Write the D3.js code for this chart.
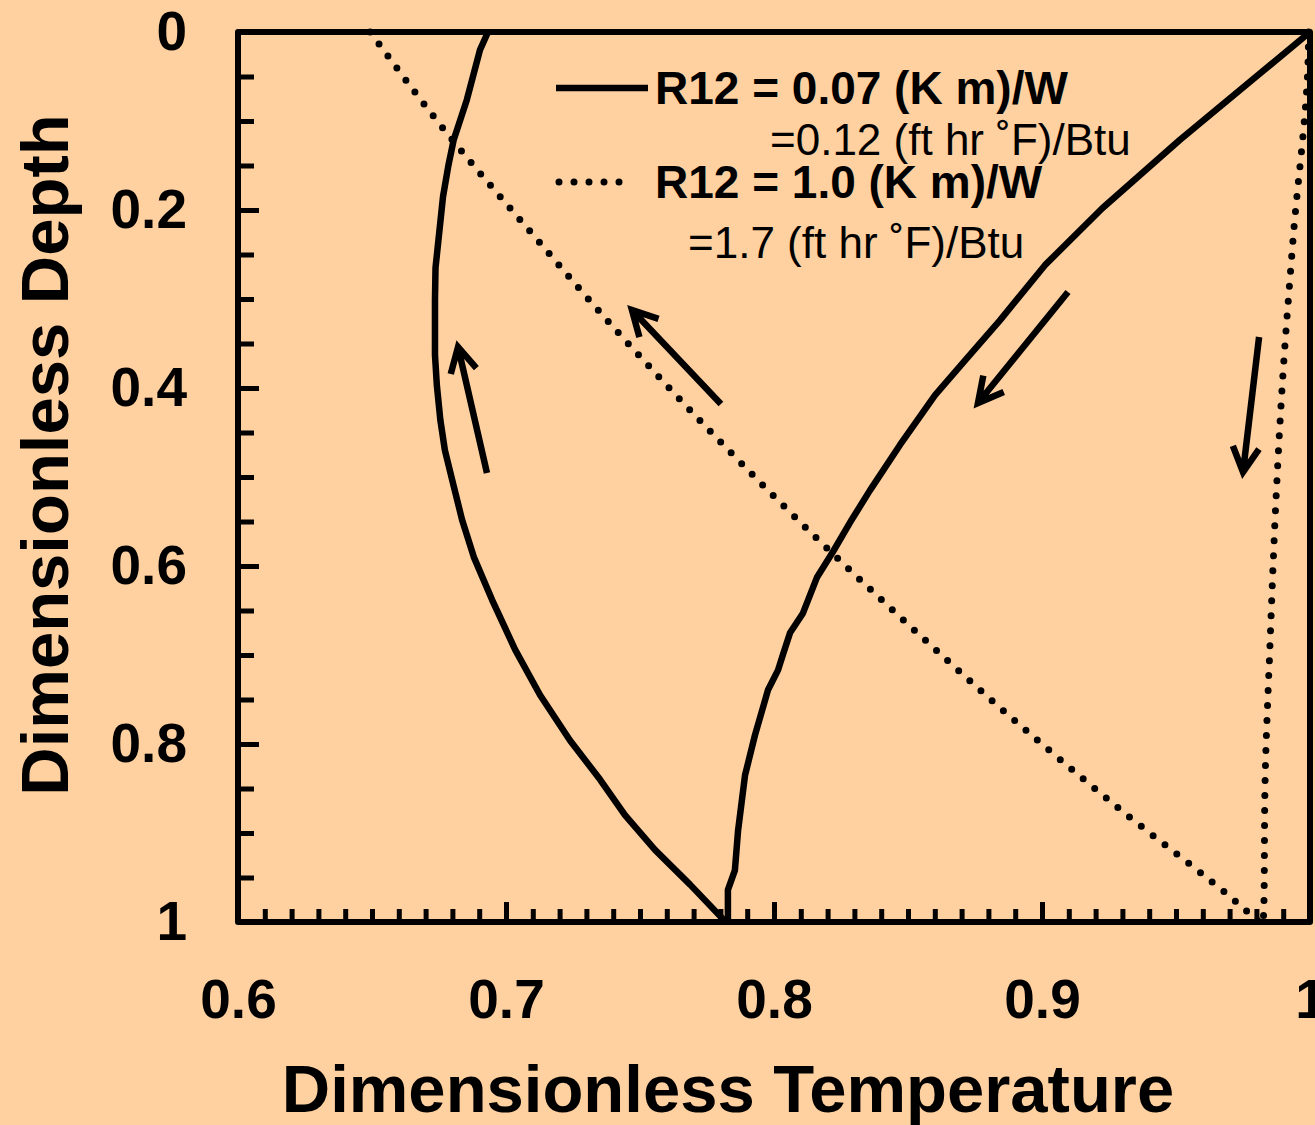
<!DOCTYPE html>
<html lang="en">
<head>
    <meta charset="UTF-8">
    <title>Dimensionless Temperature vs Depth</title>
    <script src="https://cdnjs.cloudflare.com/ajax/libs/d3/7.8.5/d3.min.js"></script>
    <style>
        body {
            margin: 0;
            background: #FFD0A0;
        }
        svg text {
            font-family: "Liberation Sans", Arial, sans-serif;
            fill: #000;
        }
        .tick-label {
            font-size: 55px;
            font-weight: bold;
        }
        .axis-title {
            font-size: 67px;
            font-weight: bold;
        }
        .legend-main {
            font-size: 46px;
            font-weight: bold;
        }
        .legend-sub {
            font-size: 44px;
        }
        .curve {
            fill: none;
            stroke: #000;
            stroke-width: 6.5;
            stroke-linejoin: round;
        }
        .dotted {
            stroke-width: 7;
            stroke-linecap: round;
            stroke-dasharray: 0 15;
        }
        .arrow {
            fill: none;
            stroke: #000;
            stroke-width: 6.5;
        }
    </style>
</head>
<body>
    <div id="chart"></div>

    <script>
        // Tick labels
        const xTicks = [0.6, 0.7, 0.8, 0.9, 1];
        const yTicks = [0, 0.2, 0.4, 0.6, 0.8, 1];

        // R12 = 0.07 (K m)/W, downward leg (from T = 1 at the top)
        const lowDownDepth = [0, 0.056, 0.121, 0.198, 0.262, 0.324, 0.369, 0.408, 0.464, 0.515, 0.548, 0.584, 0.613, 0.653, 0.675, 0.698, 0.717, 0.739, 0.790, 0.835, 0.897, 0.942, 0.964, 1];
        const lowDownTemp = [1.0, 0.9776, 0.9515, 0.9225, 0.9011, 0.8843, 0.8713, 0.8601, 0.8470, 0.8358, 0.829, 0.822, 0.816, 0.8108, 0.806, 0.8035, 0.8015, 0.7978, 0.7929, 0.7892, 0.7866, 0.7854, 0.7828, 0.7828];

        // R12 = 0.07 (K m)/W, upward leg
        const lowUpDepth = [0, 0.020, 0.076, 0.121, 0.150, 0.185, 0.222, 0.265, 0.301, 0.363, 0.397, 0.436, 0.470, 0.503, 0.548, 0.590, 0.638, 0.694, 0.745, 0.796, 0.840, 0.880, 0.919, 0.958, 1];
        const lowUpTemp = [0.6933, 0.6903, 0.6854, 0.6805, 0.6785, 0.6765, 0.6752, 0.6737, 0.6735, 0.6735, 0.6742, 0.6755, 0.6772, 0.6799, 0.6836, 0.6880, 0.6948, 0.7034, 0.7127, 0.7239, 0.7351, 0.7444, 0.7556, 0.7687, 0.7820];

        // R12 = 1.0 (K m)/W, downward leg
        const highDownDepth = [0, 0.03, 0.232, 0.399, 0.526, 0.694, 0.848, 0.983, 1];
        const highDownTemp = [0.9995, 0.9993, 0.9937, 0.9896, 0.9873, 0.9850, 0.9832, 0.9828, 0.9825];

        // R12 = 1.0 (K m)/W, upward leg
        const highUpDepth = [0, 0.110, 0.237, 0.3135, 0.4236, 0.55, 0.681, 0.771, 0.867, 0.983, 1];
        const highUpTemp = [0.6493, 0.677, 0.7127, 0.7347, 0.7683, 0.8095, 0.8556, 0.8888, 0.9265, 0.9746, 0.981];

        // Flow-direction arrows: [tailTemp, tailDepth, tipTemp, tipDepth]
        const arrows = [
            [0.6929, 0.4955, 0.6821, 0.3539],
            [0.7802, 0.4180, 0.7470, 0.3124],
            [0.9097, 0.2921, 0.8761, 0.4169],
            [0.9810, 0.3427, 0.9750, 0.4944]
        ];

        const legendItems = [
            {label: "R12 = 0.07 (K m)/W", sub: "=0.12 (ft hr ˚F)/Btu", dotted: false},
            {label: "R12 = 1.0 (K m)/W", sub: "=1.7 (ft hr ˚F)/Btu", dotted: true}
        ];

        const W = 1315, H = 1125;
        const plotLeft = 238, plotRight = 1310, plotTop = 32, plotBottom = 922;

        const svg = d3.select("#chart")
            .append("svg")
            .attr("width", W)
            .attr("height", H);

        svg.append("rect")
            .attr("width", W)
            .attr("height", H)
            .attr("fill", "#FFD0A0");

        const x = d3.scaleLinear().domain([0.6, 1]).range([plotLeft, plotRight]);
        const y = d3.scaleLinear().domain([0, 1]).range([plotTop, plotBottom]);

        const fmt = d3.format("~g");

        // Minor ticks (inward)
        svg.append("g")
            .attr("transform", `translate(${plotLeft},0)`)
            .call(d3.axisLeft(y).tickValues(d3.range(0.05, 1, 0.05)).tickSize(-16).tickFormat(""))
            .call(g => g.select(".domain").remove());

        svg.append("g")
            .attr("transform", `translate(0,${plotBottom})`)
            .call(d3.axisBottom(x).tickValues(d3.range(0.61, 1, 0.01)).tickSize(-13).tickFormat(""))
            .call(g => g.select(".domain").remove());

        // Major ticks with labels
        svg.append("g")
            .attr("transform", `translate(${plotLeft},0)`)
            .call(d3.axisLeft(y).tickValues(yTicks).tickSize(-21).tickPadding(51).tickFormat(fmt))
            .call(g => g.select(".domain").remove());

        svg.append("g")
            .attr("transform", `translate(0,${plotBottom})`)
            .call(d3.axisBottom(x).tickValues(xTicks).tickSize(-20).tickPadding(57).tickFormat(fmt))
            .call(g => g.select(".domain").remove());

        svg.selectAll(".tick line")
            .attr("stroke", "#000")
            .attr("stroke-width", 5);

        svg.selectAll(".tick text")
            .attr("class", "tick-label")
            .attr("font-size", null)
            .attr("font-family", null);

        // Plot frame
        svg.append("rect")
            .attr("x", plotLeft)
            .attr("y", plotTop)
            .attr("width", plotRight - plotLeft)
            .attr("height", plotBottom - plotTop)
            .attr("fill", "none")
            .attr("stroke", "#000")
            .attr("stroke-width", 6)
            .attr("stroke-linejoin", "round");

        const line = d3.line()
            .x(d => x(d[0]))
            .y(d => y(d[1]));

        const zip = (t, dep) => t.map((v, i) => [v, dep[i]]);

        svg.append("path")
            .datum(zip(lowDownTemp, lowDownDepth))
            .attr("class", "curve")
            .attr("d", line);

        svg.append("path")
            .datum(zip(lowUpTemp, lowUpDepth))
            .attr("class", "curve")
            .attr("d", line);

        svg.append("path")
            .datum(zip(highDownTemp, highDownDepth))
            .attr("class", "curve dotted")
            .attr("d", line.curve(d3.curveMonotoneY));

        svg.append("path")
            .datum(zip(highUpTemp, highUpDepth))
            .attr("class", "curve dotted")
            .attr("d", line.curve(d3.curveMonotoneY));

        // Arrows with open heads
        const headLen = 28, headAng = 28 * Math.PI / 180;
        arrows.forEach(a => {
            const x0 = x(a[0]), y0 = y(a[1]), x1 = x(a[2]), y1 = y(a[3]);
            const ang = Math.atan2(y0 - y1, x0 - x1);
            const b1 = [x1 + headLen * Math.cos(ang - headAng), y1 + headLen * Math.sin(ang - headAng)];
            const b2 = [x1 + headLen * Math.cos(ang + headAng), y1 + headLen * Math.sin(ang + headAng)];
            svg.append("path")
                .attr("class", "arrow")
                .attr("d", `M${x0},${y0}L${x1},${y1}M${b1[0]},${b1[1]}L${x1},${y1}L${b2[0]},${b2[1]}`);
        });

        // Legend
        const legendRows = [
            {lineY: 88, textY: 104, subX: 770, subY: 155},
            {lineY: 182, textY: 198, subX: 688, subY: 258}
        ];
        legendItems.forEach((item, i) => {
            const r = legendRows[i];
            svg.append("line")
                .attr("class", item.dotted ? "curve dotted" : "curve")
                .attr("x1", item.dotted ? 559 : 556)
                .attr("x2", item.dotted ? 634 : 648)
                .attr("y1", r.lineY)
                .attr("y2", r.lineY);
            svg.append("text")
                .attr("class", "legend-main")
                .attr("x", 655)
                .attr("y", r.textY)
                .text(item.label);
            svg.append("text")
                .attr("class", "legend-sub")
                .attr("x", r.subX)
                .attr("y", r.subY)
                .text(item.sub);
        });

        // Axis titles
        svg.append("text")
            .attr("class", "axis-title")
            .attr("x", 728)
            .attr("y", 1112)
            .attr("text-anchor", "middle")
            .text("Dimensionless Temperature");

        svg.append("text")
            .attr("class", "axis-title")
            .attr("transform", "rotate(-90)")
            .attr("x", -455)
            .attr("y", 68)
            .attr("text-anchor", "middle")
            .text("Dimensionless Depth");
    </script>
</body>
</html>
